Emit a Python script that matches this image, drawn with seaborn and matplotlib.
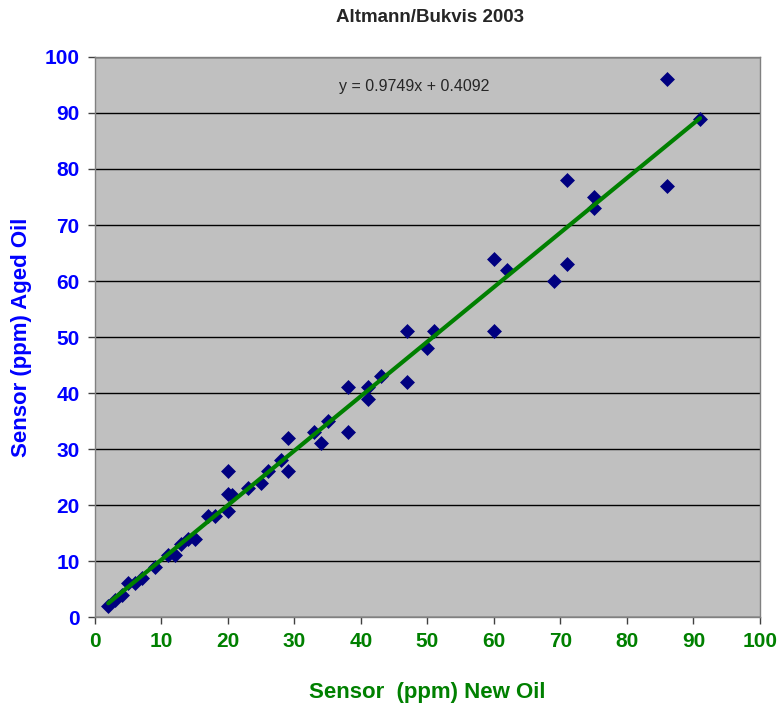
import numpy as np
import pandas as pd
import matplotlib
matplotlib.use('Agg')
import matplotlib.pyplot as plt
import seaborn as sns

# valori
new_oil = [2, 3, 4, 5, 6, 7, 9, 11, 12, 13, 14, 15, 17, 18, 20, 20, 20.6, 20, 23, 25, 26, 28, 29, 29,
           33, 34, 35, 38, 38, 41, 41, 43, 47, 47, 50, 51, 60, 62, 60, 71, 69, 71, 75, 75, 86, 91, 86]
aged_oil = [2, 3, 4, 6, 6, 7, 9, 11, 11, 13, 14, 14, 18, 18, 26, 22, 21.8, 19, 23, 24, 26, 28, 32, 26,
            33, 31, 35, 41, 33, 41, 39, 43, 51, 42, 48, 51, 64, 62, 51, 78, 60, 63, 75, 73, 96, 89, 77]
x_ticks = list(range(0, 101, 10))
y_ticks = list(range(0, 101, 10))

df = pd.DataFrame({'NewOil': new_oil, 'AgedOil': aged_oil})

sns.set_style('white')
plt.rcParams['font.family'] = ['Liberation Sans', 'DejaVu Sans']

fig = plt.figure(figsize=(7.81, 7.08), dpi=100)
ax = fig.add_axes([0.1216, 0.1285, 0.8514, 0.791])
ax.set_facecolor('#C0C0C0')

sns.regplot(data=df, x='NewOil', y='AgedOil', ax=ax, ci=None, truncate=True, marker='D',
            scatter_kws={'color': '#000080', 's': 58, 'alpha': 1, 'linewidths': 0, 'zorder': 3},
            line_kws={'color': '#008000', 'linewidth': 3, 'zorder': 4})

ax.set_xlim(0, 100)
ax.set_ylim(0, 100)
ax.set_xticks(x_ticks)
ax.set_yticks(y_ticks)
ax.yaxis.grid(True, color='black', linewidth=1)
ax.xaxis.grid(False)
ax.set_axisbelow(True)
for s in ax.spines.values():
    s.set_color('#808080')
    s.set_linewidth(1)

ax.tick_params(axis='both', direction='out', length=5, width=1, color='#404040',
               labelsize=15, pad=6, bottom=True, left=True)
for lab in ax.get_yticklabels():
    lab.set_color('#0000FF')
    lab.set_fontweight('bold')
for lab in ax.get_xticklabels():
    lab.set_color('#008000')
    lab.set_fontweight('bold')

ax.set_xlabel('Sensor  (ppm) New Oil', color='#008000', fontsize=16, fontweight='bold', labelpad=22)
ax.set_ylabel('Sensor (ppm) Aged Oil', color='#0000FF', fontsize=16, fontweight='bold', labelpad=9)
fig.suptitle('Altmann/Bukvis 2003', x=0.55, y=0.987, fontsize=13.5, fontweight='bold')

ax.text(48, 94.7, 'y = 0.9749x + 0.4092', fontsize=11.5, ha='center', va='center')

plt.savefig('out.png', dpi=100)
